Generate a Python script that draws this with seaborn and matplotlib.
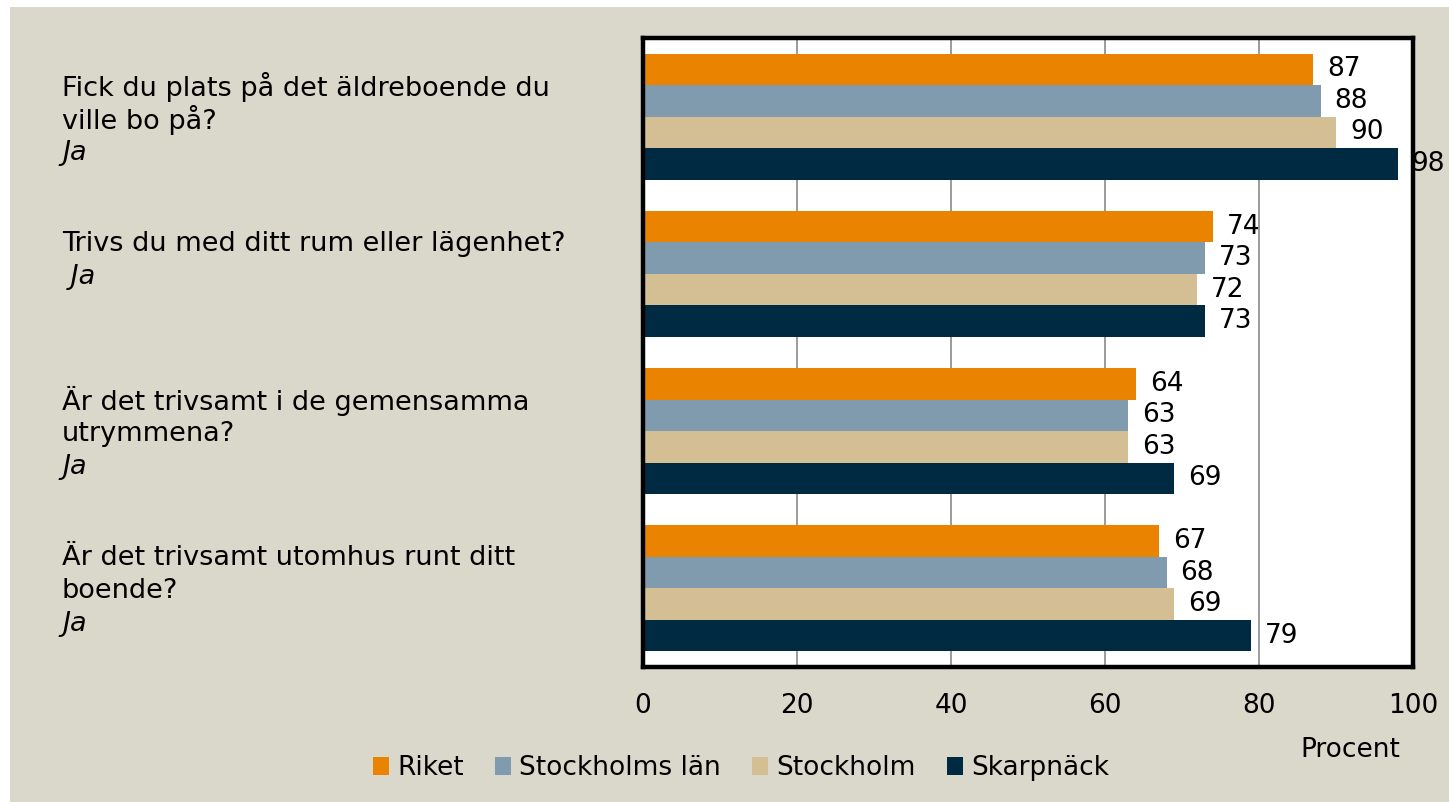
import pandas as pd
import seaborn as sns
import matplotlib.pyplot as plt
from matplotlib.patches import Rectangle

# Frågor (kategorier) och svar per område, procent "Ja"
fragor = [
    "Fick du plats på det äldreboende du\nville bo på?",
    "Trivs du med ditt rum eller lägenhet?",
    "Är det trivsamt i de gemensamma\nutrymmena?",
    "Är det trivsamt utomhus runt ditt\nboende?",
]
svar_rad = ["Ja", " Ja", "Ja", "Ja"]
omraden = ["Riket", "Stockholms län", "Stockholm", "Skarpnäck"]
riket = [87, 74, 64, 67]
stockholms_lan = [88, 73, 63, 68]
stockholm = [90, 72, 63, 69]
skarpnack = [98, 73, 69, 79]
x_ticks = [0, 20, 40, 60, 80, 100]

farger = ["#E98300", "#7F9BAD", "#D4BF95", "#002A42"]
bg = "#DAD7CB"

rows = []
for omr, vals in zip(omraden, [riket, stockholms_lan, stockholm, skarpnack]):
    for i, v in enumerate(vals):
        rows.append({"fraga": i, "omrade": omr, "procent": v})
df = pd.DataFrame(rows)

sns.set_theme(style="white")
plt.rcParams['font.family'] = ['DejaVu Sans']
plt.rcParams['text.color'] = 'black'
plt.rcParams['xtick.color'] = 'black'

fig = plt.figure(figsize=(14.49, 8.02), dpi=100, facecolor="white")
fig.patches.append(Rectangle((10 / 1449, 0), 1, 1 - 7 / 802, transform=fig.transFigure,
                             facecolor=bg, edgecolor="none", zorder=-10))
ax = fig.add_axes([643 / 1449, 1 - 667 / 802, 770 / 1449, 629 / 802])
ax.set_facecolor("white")

sns.barplot(data=df, y="fraga", x="procent", hue="omrade", hue_order=omraden,
            palette=farger, orient="h", width=0.8, saturation=1, legend=False,
            linewidth=0, ax=ax, zorder=3)

ax.set_xlim(0, 100)
ax.set_ylim(3.5, -0.5)
ax.set_xticks(x_ticks)
ax.set_xticklabels([str(t) for t in x_ticks], fontsize=19)
ax.tick_params(axis="x", length=0, pad=19, labelcolor="black")
ax.set_yticks([])
ax.set_xlabel("")
ax.set_ylabel("")
ax.grid(axis="x", color="#8a8a8a", linewidth=1.2, zorder=0)
ax.set_axisbelow(True)
for s in ax.spines.values():
    s.set_color("black")
    s.set_linewidth(3.2)
    s.set_zorder(5)

for c in ax.containers:
    labels = ax.bar_label(c, fmt="%d", padding=10, fontsize=19, color="black")
    for t in labels:
        t.set_zorder(6)

# Kategoritexter till vänster
for i, (q, ja) in enumerate(zip(fragor, svar_rad)):
    lines = q.split("\n")
    for k, line in enumerate(lines + [ja]):
        ax.annotate(line, xy=(62 / 1449, i), xycoords=("figure fraction", "data"),
                    xytext=(0, 30 - 33 * k), textcoords="offset pixels",
                    ha="left", va="center", fontsize=19.5, color="black",
                    style="italic" if k == len(lines) else "normal")

fig.text(1400 / 1449, 1 - 750 / 802, "Procent", ha="right", va="center",
         fontsize=19, color="black")

handles = [Rectangle((0, 0), 1, 1, facecolor=f, edgecolor="none") for f in farger]
fig.legend(handles, omraden, loc="center", bbox_to_anchor=(741 / 1449, 1 - 768 / 802),
           ncol=4, frameon=False, fontsize=19, handlelength=0.6, handleheight=0.7,
           handletextpad=0.3, columnspacing=1.2, labelcolor="black")

fig.savefig("out.png", dpi=100, facecolor=fig.get_facecolor())
